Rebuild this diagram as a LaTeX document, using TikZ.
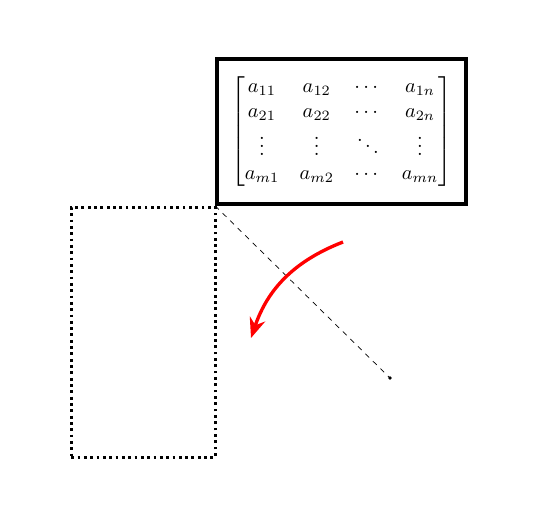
\documentclass[tikz,border=0pt]{standalone}
\usepackage{amsmath,amssymb}
\usetikzlibrary{arrows.meta}

\begin{document}
\begin{tikzpicture}[x=0.02cm, y=-0.02cm, >={Stealth[length=4mm, width=3.2mm]}, mbox/.style={draw, line width=2.1pt, minimum width=4.98cm, minimum height=2.9cm, inner sep=0pt}, blk/.style={draw, dotted, line width=1.6pt, minimum width=2.88cm, minimum height=5cm, inner sep=0pt}]
	\useasboundingbox (0,0) rectangle (537,505);
	\node[mbox] (mat) at (341.5,131.5) {\scalebox{1.16}{$\begin{bmatrix} a_{11} & a_{12} & \cdots & a_{1n}\\ a_{21} & a_{22} & \cdots & a_{2n}\\ \vdots & \vdots & \ddots & \vdots\\ a_{m1} & a_{m2} & \cdots & a_{mn} \end{bmatrix}$}};
	\node[blk, anchor=north east] (col) at ([xshift=0.03cm]mat.south west) {};
	\coordinate (diagEnd) at (390,378);
	\coordinate (arrS) at (343,242);
	\coordinate (arrE) at (251,338);
	\draw[dashed, thin] (mat.south west) -- (diagEnd);
	\fill (diagEnd) circle (1.1pt);
	\draw[->, red, line width=1.9pt] (arrS) to[bend right=25] (arrE);
\end{tikzpicture}
\end{document}
